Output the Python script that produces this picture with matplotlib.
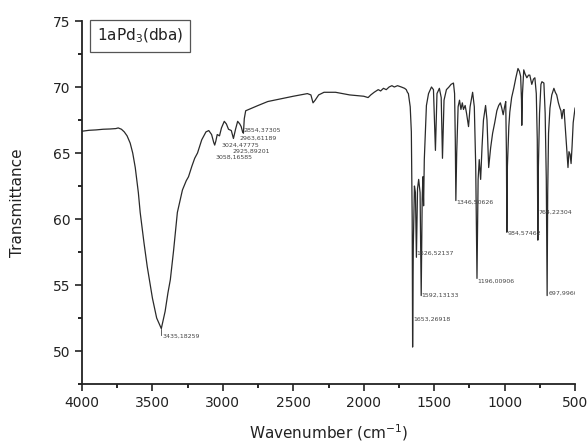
import numpy as np
import matplotlib
matplotlib.use("Agg")
import matplotlib.pyplot as plt
from matplotlib.ticker import MultipleLocator

# IR spectrum (wavenumber cm-1, transmittance)
wavenumber = [
    4000, 3950, 3900, 3850, 3800, 3760, 3743, 3720, 3700, 3680, 3658, 3640,
    3622, 3600, 3587, 3560, 3537, 3500, 3470, 3437, 3410, 3390, 3373, 3350,
    3323, 3300, 3287, 3260, 3244, 3220, 3200, 3180, 3150, 3120, 3100, 3080,
    3065, 3058, 3050, 3040, 3024, 3010, 2990, 2975, 2960, 2940, 2925, 2910,
    2895, 2880, 2870, 2860, 2854, 2848, 2838, 2750, 2681, 2589, 2500, 2400,
    2375, 2360, 2345, 2320, 2282, 2200, 2100, 2000, 1969, 1950, 1926, 1897,
    1880, 1860, 1840, 1820, 1800, 1783, 1760, 1733, 1710, 1698, 1690, 1683,
    1670, 1662, 1656, 1653, 1648, 1640, 1633, 1626, 1618, 1610, 1600, 1592,
    1585, 1580, 1575, 1570, 1555, 1540, 1519, 1505, 1491, 1480, 1463, 1450,
    1441, 1430, 1413, 1395, 1380, 1363, 1355, 1350, 1346, 1340, 1330, 1320,
    1310, 1300, 1292, 1280, 1270, 1256, 1245, 1227, 1215, 1205, 1196, 1188,
    1180, 1170, 1160, 1150, 1135, 1125, 1113, 1099, 1085, 1070, 1055, 1042,
    1030, 1020, 1010, 1000, 992, 987, 984, 980, 970, 963, 950, 935,
    920, 905, 895, 886, 880, 878, 873, 864, 855, 842, 830, 821,
    807, 795, 785, 775, 768, 764, 760, 752, 742, 735, 721, 712,
    704, 698, 694, 688, 678, 665, 650, 640, 630, 618, 607, 600,
    593, 585, 578, 570, 560, 550, 543, 535, 528, 521, 513, 505, 500,
]
transmittance = [
    66.65, 66.72, 66.75, 66.8, 66.82, 66.85, 66.9, 66.8, 66.6, 66.3, 65.75, 65.0,
    63.9, 62.0, 60.5, 58.2, 56.4, 54.0, 52.5, 51.7, 53.0, 54.4, 55.4, 57.6,
    60.5, 61.6, 62.2, 62.9, 63.2, 64.0, 64.6, 65.0, 66.0, 66.6, 66.7, 66.4,
    65.8, 65.6, 65.9, 66.4, 66.3, 66.9, 67.4, 67.2, 66.8, 66.7, 66.1, 66.8,
    67.4, 67.2, 67.0, 66.6, 66.5, 67.6, 68.2, 68.6, 68.9, 69.1, 69.3, 69.5,
    69.4, 68.8, 69.0, 69.4, 69.6, 69.6, 69.4, 69.3, 69.2, 69.4, 69.6, 69.8,
    69.7, 69.9, 69.8, 70.0, 70.1, 70.0, 70.1, 70.0, 69.9, 69.8, 69.6, 69.5,
    68.5, 66.6, 60.0, 50.3, 58.0, 62.5, 62.0, 57.1, 62.3, 63.0, 62.0, 54.2,
    61.5, 63.2, 61.0, 64.5, 68.6, 69.5, 70.0, 69.8, 65.2, 69.5, 69.9, 69.2,
    64.6, 69.0, 69.8, 70.0, 70.2, 70.3, 69.5, 66.0, 61.4, 65.0, 68.5, 69.0,
    68.3, 68.8, 68.3, 68.6, 68.0, 67.0, 68.5, 69.6, 68.5, 64.0, 55.5, 63.0,
    64.5, 63.0, 65.5, 67.5, 68.6, 67.5, 63.9, 65.4, 66.5, 67.3, 68.2, 68.6,
    68.8, 68.4, 67.9, 68.5, 68.9, 65.0, 59.0, 64.0, 67.0, 68.1, 69.2, 69.9,
    70.7, 71.4, 71.2, 70.8, 69.0, 67.1, 69.5, 71.3, 71.0, 70.7, 70.9, 70.9,
    70.2, 70.6, 70.7, 69.5, 66.0, 58.4, 64.0, 68.0, 70.2, 70.4, 70.3, 68.0,
    63.0, 54.2, 62.0, 66.5, 68.4, 69.4, 69.9, 69.6, 69.4, 68.8, 68.4, 68.2,
    67.6, 68.2, 68.3, 67.0, 65.5, 63.9, 65.1, 64.9, 64.2, 65.5, 67.3, 68.0, 68.4,
]

# peak labels as printed on the chart, with where each text sits
peak_labels = ["3435,18259", "3058,16585", "3024,47775", "2925,89201",
               "2963,61189", "2854,37305", "1653,26918", "1626,52137",
               "1592,13133", "1346,50626", "1196,00906", "984,57462",
               "764,22304", "697,99605"]
label_wn = [3428, 3054, 3012, 2930, 2880, 2853, 1650, 1625,
            1589, 1343, 1191, 978, 762, 690]
label_t = [51.1, 64.7, 65.55, 65.1, 66.15, 66.75, 52.4, 57.4,
           54.2, 61.3, 55.3, 58.9, 60.5, 54.4]

fig = plt.figure(figsize=(5.87, 4.44), dpi=100)
ax = fig.add_axes([0.1397, 0.1351, 0.8399, 0.8176])

ax.plot(wavenumber, transmittance, color="#2a2a2a", lw=0.9)

for txt, x, y in zip(peak_labels, label_wn, label_t):
    ax.text(x, y, txt, fontsize=4.5, color="#444444", va="center", ha="left",
            clip_on=True)
# short leader under the broad O-H band
ax.plot([3437, 3437], [51.7, 51.2], color="#444444", lw=0.6)

ax.set_xlim(4000, 500)
ax.set_ylim(47.5, 75)
ax.xaxis.set_major_locator(MultipleLocator(500))
ax.xaxis.set_minor_locator(MultipleLocator(250))
ax.yaxis.set_major_locator(MultipleLocator(5))
ax.yaxis.set_minor_locator(MultipleLocator(2.5))
ax.tick_params(which="major", direction="out", length=5, width=1.2,
               labelsize=10, colors="#222222")
ax.tick_params(which="minor", direction="out", length=3, width=1.2)

for side in ["top", "right"]:
    ax.spines[side].set_visible(False)
for side in ["left", "bottom"]:
    ax.spines[side].set_linewidth(1.3)
    ax.spines[side].set_color("#222222")

ax.set_xlabel("Wavenumber (cm$^{-1}$)", fontsize=11, labelpad=9, color="#222222")
ax.set_ylabel("Transmittance", fontsize=11, labelpad=20, color="#222222")

ax.text(0.03, 0.985, "1aPd$_3$(dba)", transform=ax.transAxes, fontsize=11,
        va="top", ha="left", color="#222222",
        bbox=dict(boxstyle="square,pad=0.45", fc="white", ec="#555555", lw=0.9))

fig.savefig("out.png", dpi=100)
